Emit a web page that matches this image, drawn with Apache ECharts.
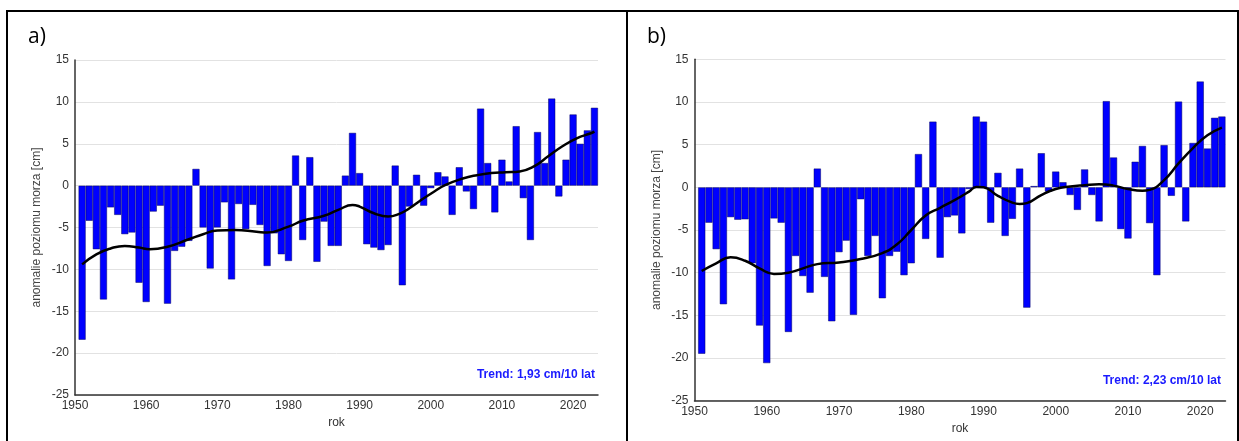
<!DOCTYPE html>
<html>
<head>
<meta charset="utf-8">
<script src="https://cdn.jsdelivr.net/npm/echarts@6/dist/echarts.min.js"></script>
<style>
html,body{margin:0;padding:0;background:#fff;}
#chart{width:1239px;height:441px;}
</style>
</head>
<body>
<div id="chart"></div>
<script>
// ---- data ----
var yearsStart = 1951;
var yearsEnd = 2023;
var xTickLabels = [1950, 1960, 1970, 1980, 1990, 2000, 2010, 2020];
var yTickLabels = [-25, -20, -15, -10, -5, 0, 5, 10, 15];

var anomA = [
  -18.4, -4.2, -7.6, -13.6, -2.6, -3.5, -5.8, -5.6, -11.6, -13.9,
  -3.1, -2.4, -14.1, -7.8, -7.3, -6.6, 2.0, -5.0, -9.9, -5.0,
  -2.0, -11.2, -2.2, -5.2, -2.3, -4.7, -9.6, -5.7, -8.2, -9.0,
  3.6, -6.5, 3.4, -9.1, -4.3, -7.2, -7.2, 1.2, 6.3, 1.5,
  -7.0, -7.4, -7.7, -7.1, 2.4, -11.9, -2.5, 1.3, -2.4, -0.3,
  1.6, 1.1, -3.5, 2.2, -0.7, -2.8, 9.2, 2.7, -3.2, 3.1,
  0.5, 7.1, -1.5, -6.5, 6.4, 2.7, 10.4, -1.3, 3.1, 8.5,
  5.0, 6.6, 9.3
];
var anomB = [
  -19.5, -4.15, -7.25, -13.7, -3.5, -3.8, -3.75, -8.9, -16.2, -20.6,
  -3.65, -4.15, -16.95, -8.05, -10.4, -12.35, 2.2, -10.5, -15.7, -7.6,
  -6.25, -14.95, -1.4, -8.05, -5.7, -13.0, -8.05, -7.55, -10.3, -8.9,
  3.9, -6.05, 7.7, -8.25, -3.5, -3.3, -5.4, -0.2, 8.3, 7.7,
  -4.15, 1.7, -5.7, -3.7, 2.2, -14.1, 0.15, 4.0, -0.5, 1.85,
  0.6, -0.9, -2.65, 2.1, -0.9, -4.0, 10.1, 3.5, -4.9, -6.0,
  3.0, 4.85, -4.2, -10.3, 4.95, -1.0, 10.05, -4.0, 5.2, 12.4,
  4.55, 8.15, 8.3
];
var trendYearsA = [1951, 1953, 1955, 1957, 1959, 1960.5, 1963, 1966, 1968, 1970, 1972.5, 1975.5, 1977, 1980, 1982, 1985, 1987, 1989, 1990, 1992, 1994, 1995.5, 1997, 1998.5, 2000.5, 2002, 2004.5, 2006.5, 2008.5, 2010.5, 2012.5, 2014.5, 2016.5, 2018.5, 2020.5, 2022.5, 2023];
var trendValsA  = [-9.4, -8.2, -7.5, -7.2, -7.4, -7.6, -7.3, -6.4, -5.8, -5.35, -5.3, -5.5, -5.6, -4.9, -4.2, -3.6, -2.9, -2.3, -2.5, -3.3, -3.7, -3.4, -2.7, -1.8, -0.7, 0.05, 0.85, 1.25, 1.5, 1.6, 1.7, 2.3, 3.5, 4.7, 5.65, 6.25, 6.45];
var trendYearsB = [1951, 1953, 1955, 1957, 1959, 1961, 1963, 1965, 1967, 1970, 1973, 1976, 1978, 1980, 1982, 1984, 1986, 1988, 1989, 1990, 1992, 1994, 1995, 1996, 1998, 2000, 2002, 2004, 2006, 2008, 2010, 2012, 2013, 2015, 2017, 2019, 2021, 2023];
var trendValsB  = [-9.8, -8.9, -8.2, -8.6, -9.5, -10.15, -10.0, -9.5, -9.0, -8.8, -8.4, -7.7, -6.7, -5.0, -3.3, -2.4, -1.5, -0.5, 0.05, 0.0, -1.0, -1.8, -1.95, -1.85, -0.9, -0.2, 0.1, 0.25, 0.35, 0.2, -0.2, -0.4, -0.3, 0.85, 2.8, 4.6, 6.1, 7.0];
var trendTextA = 'Trend: 1,93 cm/10 lat';
var trendTextB = 'Trend: 2,23 cm/10 lat';
var yName = 'anomalie poziomu morza [cm]';
var xName = 'rok';

// ---- build ----
function pairs(vals){ var out=[]; for(var i=0;i<vals.length;i++){ out.push([yearsStart+i, vals[i]]); } return out; }
function zip(xs, ys){ var out=[]; for(var i=0;i<xs.length;i++){ out.push([xs[i], ys[i]]); } return out; }

var font = 'Liberation Sans, Arial, sans-serif';
function xAxis(gi){
  return {
    type:'value', gridIndex:gi, min:1950, max:2023.5, interval:10,
    name:xName, nameLocation:'middle', nameGap:17,
    nameTextStyle:{color:'#333', fontSize:12, fontFamily:font},
    axisLine:{show:true, onZero:false, lineStyle:{color:'#333', width:1.5}},
    axisTick:{show:false}, splitLine:{show:false},
    axisLabel:{color:'#333', fontSize:12, fontFamily:font, margin:5, showMaxLabel:false,
      formatter:function(v){ return xTickLabels.indexOf(v)>=0 ? String(v) : ''; }}
  };
}
function yAxis(gi){
  return {
    type:'value', gridIndex:gi, min:yTickLabels[0], max:yTickLabels[yTickLabels.length-1], interval:5,
    name:yName, nameLocation:'middle', nameGap:32, nameRotate:90,
    nameTextStyle:{color:'#444', fontSize:12, fontFamily:font},
    axisLine:{show:true, lineStyle:{color:'#333', width:1.5}},
    axisTick:{show:false},
    splitLine:{show:true, lineStyle:{color:'#e2e2e2', width:1}},
    axisLabel:{color:'#333', fontSize:12, fontFamily:font, margin:6}
  };
}
function barSeries(i, vals){
  return {type:'bar', xAxisIndex:i, yAxisIndex:i, data:pairs(vals), barWidth:'100%',
    itemStyle:{color:'#0000ff', borderColor:'rgba(0,0,90,0.8)', borderWidth:0.6}, silent:true};
}
function lineSeries(i, xs, ys){
  return {type:'line', xAxisIndex:i, yAxisIndex:i, data:zip(xs, ys), smooth:0.5, symbol:'none',
    lineStyle:{color:'#000', width:2.5}, z:5, silent:true};
}

var chart = echarts.init(document.getElementById('chart'), null, {renderer:'canvas'});
chart.setOption({
  animation:false,
  backgroundColor:'#fff',
  grid:[
    {left:75, top:60, width:523, height:335},
    {left:694.5, top:59.3, width:531, height:341.4}
  ],
  xAxis:[xAxis(0), xAxis(1)],
  yAxis:[yAxis(0), yAxis(1)],
  series:[
    barSeries(0, anomA), lineSeries(0, trendYearsA, trendValsA),
    barSeries(1, anomB), lineSeries(1, trendYearsB, trendValsB)
  ],
  graphic:[
    {type:'rect', shape:{x:7, y:11, width:1231, height:445}, style:{fill:'none', stroke:'#000', lineWidth:2}, z:100},
    {type:'line', shape:{x1:627, y1:11, x2:627, y2:441}, style:{stroke:'#000', lineWidth:2}, z:100},
    {type:'text', left:28, top:27, style:{text:'a)', fill:'#000', font:'21px "Open Sans", sans-serif'}},
    {type:'text', left:647, top:27, style:{text:'b)', fill:'#000', font:'21px "Open Sans", sans-serif'}},
    {type:'text', x:595, y:375, style:{text:trendTextA, fill:'#1a1aff', font:'bold 12px "Liberation Sans", Arial, sans-serif', align:'right', verticalAlign:'middle'}},
    {type:'text', x:1221, y:381, style:{text:trendTextB, fill:'#1a1aff', font:'bold 12px "Liberation Sans", Arial, sans-serif', align:'right', verticalAlign:'middle'}}
  ]
});
</script>
</body>
</html>
